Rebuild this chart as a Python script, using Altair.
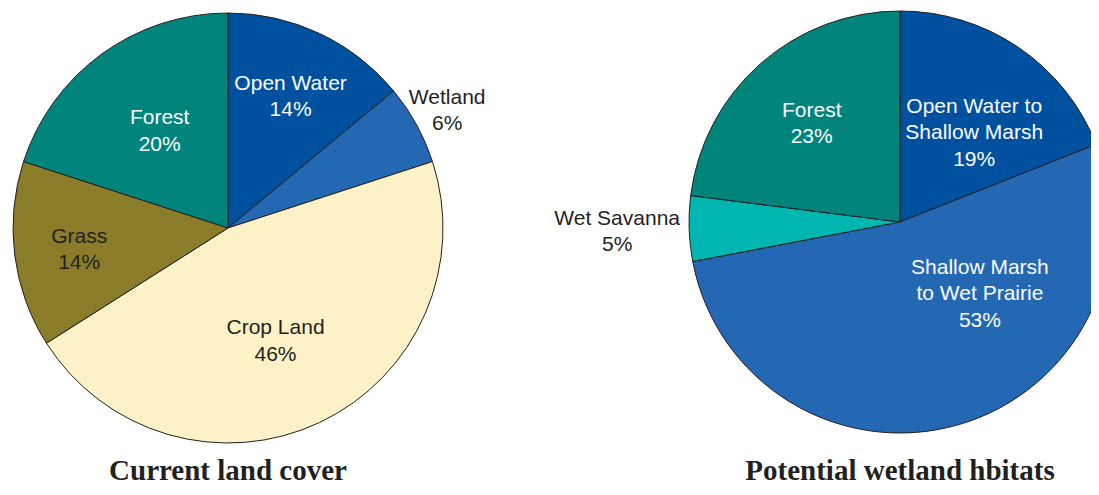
import altair as alt
import pandas as pd

# ---- data ----
land_names = ["Open Water", "Wetland", "Crop Land", "Grass", "Forest"]
land_pct = [14, 6, 46, 14, 20]
land_colors = ["#0050a0", "#2467b3", "#fdf2c7", "#8b7c2a", "#00847b"]

hab_names = ["Open Water to\nShallow Marsh", "Shallow Marsh\nto Wet Prairie", "Wet Savanna", "Forest"]
hab_pct = [19, 53, 5, 23]
hab_colors = ["#0050a0", "#2467b3", "#00b6b1", "#00847b"]

titles = ["Current land cover", "Potential wetland hbitats"]

DARK = "#231f20"
WHITE = "#ffffff"
LINE_H = 26.5

# label layout per slice: (radius, dx, dy, color)
land_label_style = [
    (147, 0, 2, WHITE),
    (249, 1, 3, DARK),
    (121, -4, 4, DARK),
    (150, 0, 3, DARK),
    (118, 1, -1, WHITE),
]
hab_label_style = [
    (116, 9, 7, WHITE),
    (100, 52, -24, WHITE),
    (283, 0, 1, DARK),
    (132, -1, 1, WHITE),
]


def pie_layers(names, pct, colors, styles, radius, cx, cy):
    df = pd.DataFrame({"name": names, "pct": pct, "idx": list(range(len(names)))})
    total = sum(pct)
    tscale = alt.Scale(domain=[0, total])
    arc = alt.Chart(df).mark_arc(
        radius=radius, stroke=DARK, strokeWidth=1, x=cx, y=cy, clip=True
    ).encode(
        theta=alt.Theta("pct:Q", stack=True, scale=tscale),
        order=alt.Order("idx:Q"),
        color=alt.Color("name:N", scale=alt.Scale(domain=names, range=colors), legend=None),
    )
    base = alt.Chart(df).transform_window(
        cum="sum(pct)", sort=[alt.SortField("idx")]
    ).transform_calculate(
        mid="datum.cum - datum.pct / 2",
        label="datum.name + '\\n' + datum.pct + '%'",
    )
    layers = [arc]
    for i, (r, dx, dy, col) in enumerate(styles):
        n_lines = names[i].count("\n") + 2
        layers.append(
            base.transform_filter(alt.datum.idx == i).mark_text(
                radius=r, dx=dx, dy=dy - (n_lines - 1) * LINE_H / 2, x=cx, y=cy, color=col,
                font="Liberation Sans", fontSize=21, lineBreak="\n", lineHeight=LINE_H,
                align="center", baseline="middle",
            ).encode(
                theta=alt.Theta("mid:Q", scale=tscale, stack=None),
                text="label:N",
            )
        )
    return layers


def title_layer(text, x, y):
    return alt.Chart(pd.DataFrame({"title": [text]})).mark_text(
        x=x, y=y, font="Liberation Serif", fontSize=29, fontWeight="bold",
        color=DARK, align="center", baseline="alphabetic",
    ).encode(text="title:N")


layers = (
    pie_layers(land_names, land_pct, land_colors, land_label_style, 215, 220, 220)
    + pie_layers(hab_names, hab_pct, hab_colors, hab_label_style, 211, 892, 214)
    + [title_layer(titles[0], 220, 472), title_layer(titles[1], 892, 472)]
)

chart = alt.layer(*layers).resolve_scale(
    color="independent", theta="independent"
).properties(
    width=1083, height=479, padding=0, autosize=alt.AutoSizeParams(type="none")
).configure_view(stroke=None)

chart.save("out.html", embed_options={"renderer": "svg", "actions": False})
